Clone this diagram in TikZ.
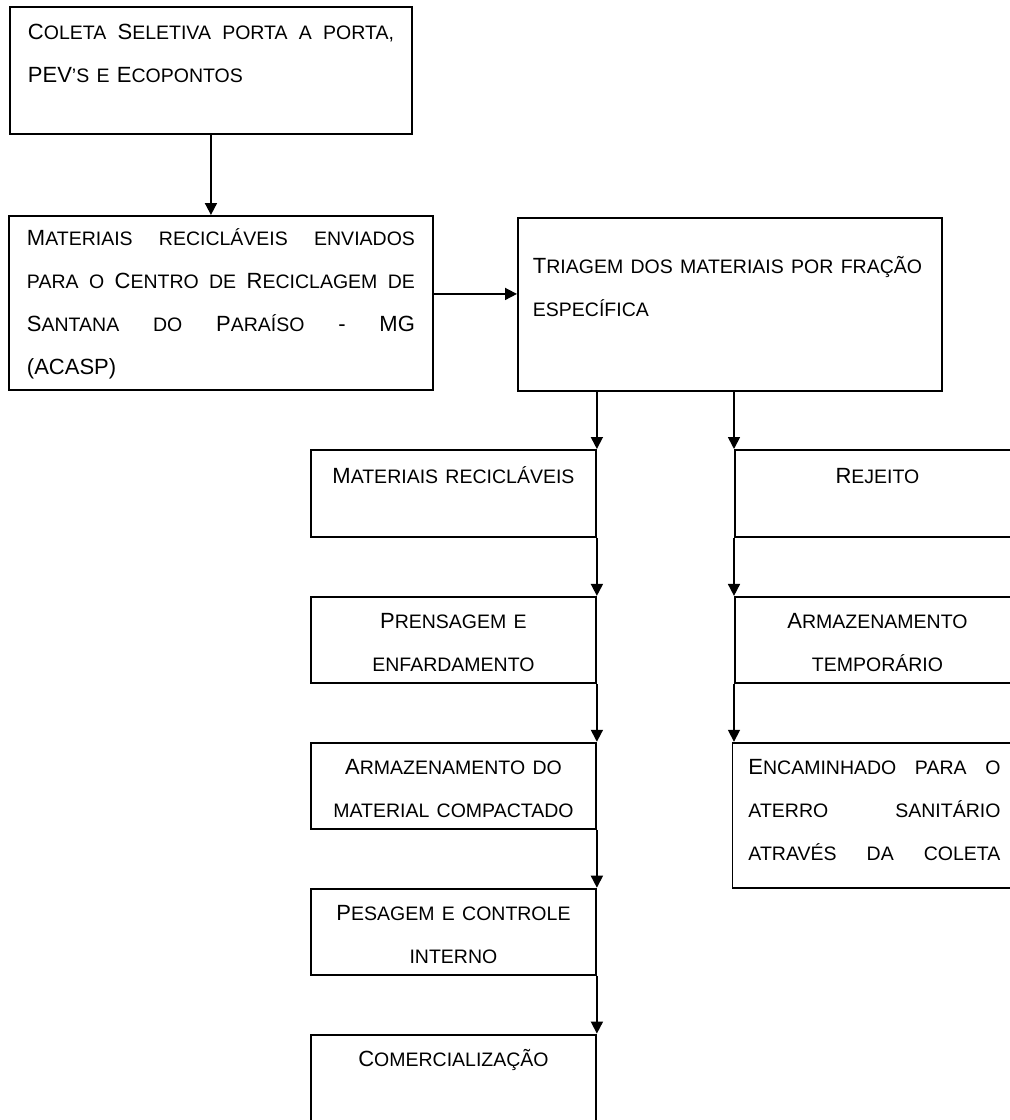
\documentclass[tikz,border=0pt]{standalone}
\usepackage{fontspec}
\setmainfont{Liberation Sans}
\usepackage{tikz}
\usetikzlibrary{positioning}
\usetikzlibrary{arrows.meta}
\newcommand{\smcp}[1]{{\fontsize{19.5pt}{43pt}\selectfont\MakeUppercase{#1}}}

\begin{document}
\begin{tikzpicture}[
    x=1pt,
    y=-1pt,
    node distance=58pt,
    box/.style={
        draw,
        line width=1.9pt,
        inner ysep=0pt,
        inner xsep=18pt,
        text height=32pt,
        font=\fontsize{22pt}{43pt}\selectfont
    },
    colbox/.style={
        box,
        inner xsep=6pt,
        text width=273pt,
        align=center,
        text depth=54pt
    },
    arrow/.style={
        -{Triangle[width=12pt,length=12pt]},
        line width=1.7pt
    }
]

    \useasboundingbox (0,0) rectangle (1010,1120);
    \clip (0,0) rectangle (1010,1120);

    \node[box,anchor=north west,text width=366pt,align=left,text height=33pt,text depth=94pt] (coleta)
    at (9,6)
    {
        C\smcp{oleta} \hfill S\smcp{eletiva \hfill porta \hfill a \hfill porta,}\\
        PEV\smcp{'s e} E\smcp{copontos}
    };

    \node[box,anchor=north west,text width=388pt,align=left,text height=30pt,text depth=144pt] (centro)
    at (8,215)
    {
        M\smcp{ateriais \hfill recicláveis \hfill enviados}\\
        \smcp{para \hfill o} \hfill C\smcp{entro \hfill de} \hfill R\smcp{eciclagem \hfill de}\\
        S\smcp{antana} \hfill \smcp{do} \hfill P\smcp{araíso} \hfill - \hfill MG\\
        (ACASP)
    };

    \node[box,anchor=north west,inner xsep=15pt,text width=394pt,align=left,text height=56pt,text depth=117pt] (triagem)
    at (517,217)
    {
        T\smcp{riagem dos materiais por fração}\\
        \smcp{específica}
    };

    \node[colbox,anchor=north west,text height=34pt,text depth=53pt] (recic)
    at (310,449)
    {
        M\smcp{ateriais recicláveis}
    };

    \node[colbox] (prensa)
    [below=of recic]
    {
        P\smcp{rensagem e}\\
        \smcp{enfardamento}
    };

    \node[colbox] (armcomp)
    [below=of prensa]
    {
        A\smcp{rmazenamento do}\\
        \smcp{material compactado}
    };

    \node[colbox] (pesagem)
    [below=of armcomp]
    {
        P\smcp{esagem e controle}\\
        \smcp{interno}
    };

    \node[colbox,text depth=67pt] (comerc)
    [below=of pesagem]
    {
        C\smcp{omercialização}
    };

    \node[colbox,anchor=north west,text height=34pt,text depth=53pt] (rejeito)
    at (734,449)
    {
        R\smcp{ejeito}
    };

    \node[colbox] (armtemp)
    [below=of rejeito]
    {
        A\smcp{rmazenamento}\\
        \smcp{temporário}
    };

    \node[colbox,align=left,inner xsep=16pt,text width=252pt,text depth=113pt] (encam)
    [below=of armtemp,xshift=-3pt]
    {
        E\smcp{ncaminhado \hfill para \hfill o}\\
        \smcp{aterro \hfill sanitário}\\
        \smcp{através \hfill da \hfill coleta}
    };

    \draw[arrow]
    (coleta.south) -- (coleta.south |- centro.north);

    \draw[arrow]
    ([yshift=9pt]centro.east) -- ([yshift=9pt]centro.east -| triagem.west);

    \draw[arrow]
    (triagem.south -| recic.north east) -- (recic.north east);

    \draw[arrow]
    (triagem.south -| rejeito.north west) -- (rejeito.north west);

    \draw[arrow]
    (recic.south east) -- (prensa.north east);

    \draw[arrow]
    (prensa.south east) -- (armcomp.north east);

    \draw[arrow]
    (armcomp.south east) -- (pesagem.north east);

    \draw[arrow]
    (pesagem.south east) -- (comerc.north east);

    \draw[arrow]
    (rejeito.south west) -- (armtemp.north west);

    \draw[arrow]
    (armtemp.south west) -- (armtemp.south west |- encam.north);

\end{tikzpicture}
\end{document}
